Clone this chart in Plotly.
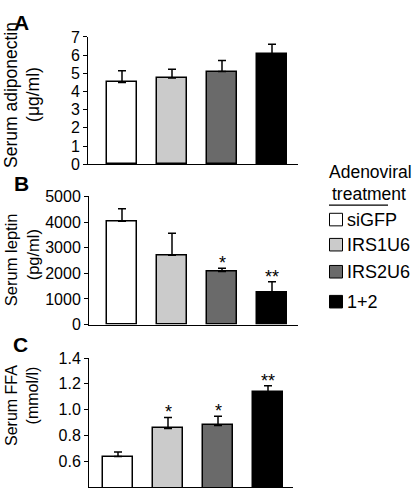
import plotly.graph_objects as go

# ---- data ----
categories = ["siGFP", "IRS1U6", "IRS2U6", "1+2"]
bar_colors = ["#ffffff", "#cbcbcb", "#6a6a6a", "#000000"]

adiponectin = [4.5, 4.75, 5.1, 6.05]
adiponectin_err = [0.64, 0.48, 0.6, 0.55]
adiponectin_sig = ["", "", "", ""]

leptin = [4030, 2700, 2070, 1270]
leptin_err = [490, 860, 130, 400]
leptin_sig = ["", "", "*", "**"]

ffa = [0.637, 0.855, 0.878, 1.135]
ffa_err = [0.035, 0.085, 0.072, 0.05]
ffa_sig = ["", "*", "*", "**"]

W, H = 415, 501
FONT = "Liberation Sans, Arial, Helvetica, sans-serif"

def px(x):
    return x / W

def py(y):
    return 1 - y / H

fig = go.Figure()

panels = [
    dict(vals=adiponectin, err=adiponectin_err, sig=adiponectin_sig, xa="x", ya="y"),
    dict(vals=leptin, err=leptin_err, sig=leptin_sig, xa="x2", ya="y2"),
    dict(vals=ffa, err=ffa_err, sig=ffa_sig, xa="x3", ya="y3"),
]

xpos = list(range(len(categories)))
for p in panels:
    fig.add_trace(go.Bar(
        x=xpos, y=p["vals"], width=0.6,
        marker=dict(color=bar_colors, line=dict(color="black", width=1.5)),
        error_y=dict(type="data", array=p["err"], arrayminus=[0] * 4, symmetric=False,
                     color="black", thickness=1.5, width=4),
        xaxis=p["xa"], yaxis=p["ya"], showlegend=False, hoverinfo="skip",
    ))
    for i, s in enumerate(p["sig"]):
        if s:
            fig.add_annotation(x=xpos[i], y=p["vals"][i] + p["err"][i], xref=p["xa"], yref=p["ya"],
                               text=s, showarrow=False, yanchor="bottom", yshift=-7,
                               font=dict(family=FONT, size=18, color="black"))

tickfont = dict(family=FONT, size=16, color="black")
yax_common = dict(showline=True, linecolor="black", linewidth=1, ticks="outside", ticklen=4,
                  tickwidth=1, tickcolor="black", tickfont=tickfont, showgrid=False, zeroline=False)
xax_common = dict(showline=True, linecolor="black", linewidth=1.2, ticks="", showticklabels=False,
                  showgrid=False, zeroline=False)

fig.update_layout(
    width=W, height=H, margin=dict(l=0, r=0, t=0, b=0),
    paper_bgcolor="white", plot_bgcolor="white", bargap=0,
    xaxis=dict(domain=[px(88), px(298)], range=[-0.68, 3.52], anchor="y", **xax_common),
    yaxis=dict(domain=[py(161.7), py(30)], range=[0, 7], tickvals=[0, 1, 2, 3, 4, 5, 6, 7],
               anchor="x", **yax_common),
    xaxis2=dict(domain=[px(89), px(298)], range=[-0.66, 3.52], anchor="y2", **xax_common),
    yaxis2=dict(domain=[py(327.7), py(195)], range=[0, 5000],
                tickvals=[0, 1000, 2000, 3000, 4000, 5000], anchor="x2", **yax_common),
    xaxis3=dict(domain=[px(89), px(293)], range=[-0.58, 3.5], anchor="y3", **xax_common),
    yaxis3=dict(domain=[py(496), py(362.3)], range=[0.4, 1.4],
                tickvals=[0.6, 0.8, 1.0, 1.2, 1.4], ticktext=["0.6", "0.8", "1.0", "1.2", "1.4"],
                anchor="x3", **yax_common),
)

# y-axis titles (each line placed separately)
title_lines = [
    ("Serum adiponectin", 11, 90, 17.5), ("(μg/ml)", 33, 90, 17.5),
    ("Serum leptin", 11, 261, 16.5), ("(pg/ml)", 33, 256, 16.5),
    ("Serum FFA", 11, 412, 16), ("(mmol/l)", 32, 401, 16),
]
for t, x, y, s in title_lines:
    fig.add_annotation(x=px(x), y=py(y), xref="paper", yref="paper", text=t, textangle=-90,
                       showarrow=False, xanchor="center", yanchor="middle",
                       font=dict(family=FONT, size=s, color="black"))

# panel letters
for t, x, y in [("A", 21, 15), ("B", 21, 182), ("C", 20, 348)]:
    fig.add_annotation(x=px(x), y=py(y), xref="paper", yref="paper", text="<b>%s</b>" % t,
                       showarrow=False, xanchor="center", yanchor="middle",
                       font=dict(family=FONT, size=21, color="black"))

# legend
fig.add_annotation(x=px(370), y=py(181), xref="paper", yref="paper", text="Adenoviral",
                   showarrow=False, xanchor="center", yanchor="bottom", borderpad=0,
                   font=dict(family=FONT, size=17.5, color="black"))
fig.add_annotation(x=px(369), y=py(181), xref="paper", yref="paper", text="treatment",
                   showarrow=False, xanchor="center", yanchor="top", borderpad=0,
                   font=dict(family=FONT, size=17.5, color="black"))
fig.add_shape(type="line", xref="paper", yref="paper", x0=px(329), x1=px(388), y0=py(204), y1=py(204),
              line=dict(color="black", width=1.2))
row_y = [219, 245, 273, 304]
for lab, col, yy in zip(categories, bar_colors, row_y):
    fig.add_shape(type="rect", xref="paper", yref="paper", x0=px(329.5), x1=px(342.5),
                  y0=py(yy + 6.5), y1=py(yy - 6.5), fillcolor=col, line=dict(color="black", width=1))
    fig.add_annotation(x=px(345), y=py(yy), xref="paper", yref="paper", text=lab, showarrow=False,
                       xanchor="left", yanchor="middle", font=dict(family=FONT, size=18, color="black"))

fig.write_html("out.html", config={"displayModeBar": False},
               post_script="document.body.style.margin='0';document.body.style.overflow='hidden';")
